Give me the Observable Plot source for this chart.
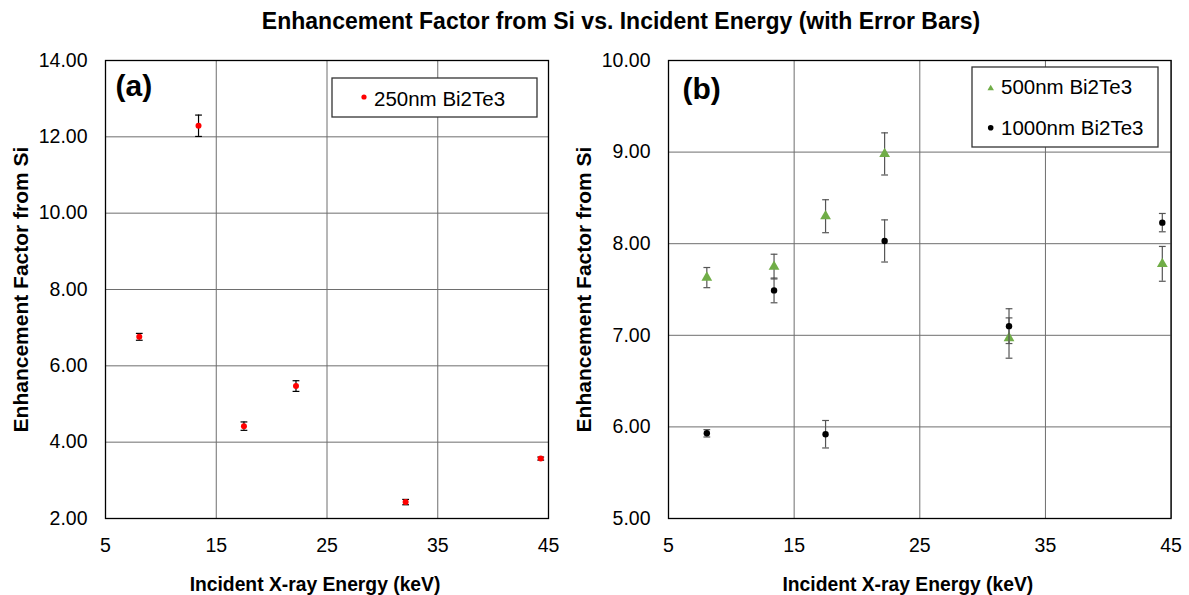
<!DOCTYPE html>
<html>
<head>
<meta charset="utf-8">
<script src="https://cdn.jsdelivr.net/npm/d3@7"></script>
<script src="https://cdn.jsdelivr.net/npm/@observablehq/plot@0.6"></script>
<style>
  body { margin: 0; background: #fff; }
  #page { position: relative; width: 1189px; height: 595px; overflow: hidden;
          font-family: "Liberation Sans", Arial, sans-serif; }
  #title { position: absolute; top: 10px; left: 0; width: 1242px; text-align: center;
           font-weight: bold; font-size: 23px; line-height: 23px; color: #000; }
  .panel { position: absolute; top: 40px; }
  .legend { position: absolute; overflow: visible; }
</style>
</head>
<body>
<div id="page">
  <div id="title">Enhancement Factor from Si vs. Incident Energy (with Error Bars)</div>
</div>
<script>
// Incident X-ray energies (keV) shared by all samples
const energies = [8.05, 13.4, 17.5, 22.2, 32.1, 44.3];

// 250 nm Bi2Te3 film
const ef250 = [6.76, 12.29, 4.42, 5.47, 2.43, 3.57];
const err250 = [0.09, 0.28, 0.11, 0.14, 0.07, 0.04];

// 500 nm Bi2Te3 film
const ef500 = [7.63, 7.75, 8.30, 8.98, 6.97, 7.78];
const err500 = [0.11, 0.135, 0.18, 0.23, 0.22, 0.19];

// 1000 nm Bi2Te3 film
const ef1000 = [5.93, 7.49, 5.92, 8.03, 7.10, 8.23];
const err1000 = [0.04, 0.135, 0.15, 0.23, 0.19, 0.10];

const xTicks = [5, 15, 25, 35, 45];
const yTicksA = [2, 4, 6, 8, 10, 12, 14];
const yTicksB = [5, 6, 7, 8, 9, 10];
const xTitle = "Incident X-ray Energy (keV)";
const yTitle = "Enhancement Factor from Si";

const font = '"Liberation Sans", Arial, sans-serif';
const green = "#70ad47";

// horizontal cap drawn at both ends of each error bar
const capSymbol = {
  draw(context, size) {
    const w = Math.sqrt(size / Math.PI);
    context.moveTo(-w, 0);
    context.lineTo(w, 0);
  }
};

function rowsOf(values, errors) {
  return energies.map((e, i) => ({energy: e, ef: values[i], err: errors[i]}));
}

function seriesMarks(rows, {symbol, fill, r, errColor}) {
  return [
    Plot.ruleX(rows, {x: "energy", y1: d => d.ef - d.err, y2: d => d.ef + d.err,
                      stroke: errColor, strokeWidth: 1.2}),
    Plot.dot(rows, {x: "energy", y: d => d.ef - d.err, symbol: capSymbol, r: 3.4,
                    stroke: errColor, strokeWidth: 1.2, fill: "none"}),
    Plot.dot(rows, {x: "energy", y: d => d.ef + d.err, symbol: capSymbol, r: 3.4,
                    stroke: errColor, strokeWidth: 1.2, fill: "none"}),
    Plot.dot(rows, {x: "energy", y: "ef", symbol, r, fill, stroke: "none"})
  ];
}

function panel({left, width, marginLeft, marginRight, yDomain, yTicks, tag, tagDx, tagDy, series}) {
  const chart = Plot.plot({
    width,
    height: 555,
    marginTop: 20,
    marginBottom: 77,
    marginLeft,
    marginRight,
    style: {fontFamily: font, fontSize: "19.5px", color: "#000", background: "#fff"},
    x: {domain: [5, 45]},
    y: {domain: yDomain},
    marks: [
      Plot.gridX({ticks: xTicks, stroke: "#6e6e6e", strokeOpacity: 1, strokeWidth: 1}),
      Plot.gridY({ticks: yTicks, stroke: "#6e6e6e", strokeOpacity: 1, strokeWidth: 1}),
      Plot.frame({stroke: "#000", strokeWidth: 1.3}),
      Plot.axisX({ticks: xTicks, tickSize: 0, tickPadding: 19.5, label: null}),
      Plot.axisY({ticks: yTicks, tickSize: 0, tickPadding: 18, tickFormat: d3.format(".2f"), label: null}),
      Plot.text([xTitle], {frameAnchor: "bottom", dx: -12, dy: 66, fontWeight: "bold", fontSize: 19.3,
                           textAnchor: "middle", lineAnchor: "middle"}),
      Plot.text([yTitle], {frameAnchor: "left", dx: -84, rotate: -90, fontWeight: "bold",
                           fontSize: 21, textAnchor: "middle", lineAnchor: "middle"}),
      Plot.text([tag], {frameAnchor: "top-left", dx: tagDx, dy: tagDy, textAnchor: "start",
                        lineAnchor: "middle", fontWeight: "bold", fontSize: 30}),
      ...series.flatMap(s => seriesMarks(s.rows, s))
    ]
  });
  chart.classList.add("panel");
  chart.style.left = left + "px";
  document.getElementById("page").appendChild(chart);
}

panel({
  left: 0, width: 590, marginLeft: 105, marginRight: 42,
  yDomain: [2, 14], yTicks: yTicksA, tag: "(a)", tagDx: 10, tagDy: 26,
  series: [
    {rows: rowsOf(ef250, err250), symbol: "circle", fill: "#ff0000", r: 3, errColor: "#000"}
  ]
});

panel({
  left: 560, width: 629, marginLeft: 108, marginRight: 18.4,
  yDomain: [5, 10], yTicks: yTicksB, tag: "(b)", tagDx: 14, tagDy: 28.5,
  series: [
    {rows: rowsOf(ef500, err500), symbol: "triangle", fill: green, r: 4, errColor: "#555"},
    {rows: rowsOf(ef1000, err1000), symbol: "circle", fill: "#000", r: 3.2, errColor: "#555"}
  ]
});

// boxed legends inside each panel
function legend({x, y, w, h, items}) {
  const svg = d3.select("#page").append("svg")
    .attr("class", "legend")
    .attr("width", w + 2).attr("height", h + 2)
    .style("left", (x - 1) + "px").style("top", (y - 1) + "px");
  svg.append("rect").attr("x", 1).attr("y", 1).attr("width", w).attr("height", h)
    .attr("fill", "#fff").attr("stroke", "#333").attr("stroke-width", 1.3);
  for (const it of items) {
    svg.append("path")
      .attr("transform", `translate(${it.sx + 1},${it.sy + 1})`)
      .attr("d", d3.symbol(it.symbol, it.size)())
      .attr("fill", it.fill);
    svg.append("text")
      .attr("x", it.tx + 1).attr("y", it.ty + 1)
      .attr("font-family", font).attr("font-size", 20.5).attr("fill", "#000")
      .text(it.label);
  }
}

legend({x: 332, y: 78, w: 205, h: 39, items: [
  {symbol: d3.symbolCircle, size: Math.PI * 2.6 * 2.6, fill: "#ff0000", sx: 32, sy: 19,
   tx: 42, ty: 27.5, label: "250nm Bi2Te3"}
]});

legend({x: 972, y: 67, w: 186, h: 80, items: [
  {symbol: d3.symbolTriangle2, size: 30, fill: green, sx: 18.7, sy: 21.5,
   tx: 29, ty: 27.3, label: "500nm Bi2Te3"},
  {symbol: d3.symbolCircle, size: Math.PI * 2.8 * 2.8, fill: "#000", sx: 18.7, sy: 60.7,
   tx: 29, ty: 68, label: "1000nm Bi2Te3"}
]});
</script>
</body>
</html>
